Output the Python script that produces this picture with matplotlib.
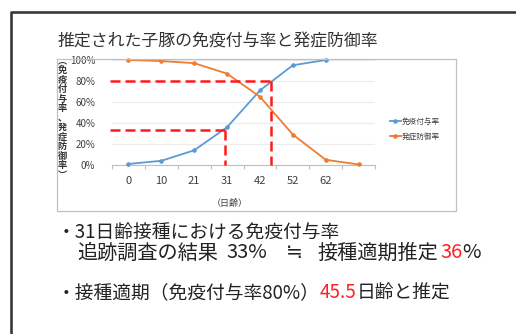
import matplotlib
matplotlib.use("Agg")

import matplotlib.pyplot as plt
from matplotlib.patches import Rectangle
from matplotlib.lines import Line2D

plt.rcParams["font.family"] = ["Noto Sans CJK JP", "DejaVu Sans"]

# ── データ ────────────────────────────────────────────────────────────────
day_labels = ["0", "10", "21", "31", "42", "52", "62", ""]
immunity   = [0.01, 0.04, 0.14, 0.36, 0.71, 0.95, 1.00]          # 免疫付与率
protection = [1.00, 0.99, 0.97, 0.87, 0.65, 0.29, 0.05, 0.005]   # 発症防御率

# 補助線（31日齢 33%、免疫付与率80% → 45.5日齢）
obs_rate, obs_pos = 0.33, 2.93
target_rate, target_pos = 0.80, 4.35

W, H = 516, 334
fig = plt.figure(figsize=(W / 100, H / 100), dpi=100)
fig.patch.set_facecolor("white")


def px_rect(l, t, r, b):
    return [l / W, 1 - b / H, (r - l) / W, (b - t) / H]


# スライド枠
fig.add_artist(Line2D([10.5 / W, 10.5 / W, 1.0], [0, 1 - 11.5 / H, 1 - 11.5 / H],
                      transform=fig.transFigure, color="#3a3a3a", lw=1.9))

# グラフ枠
fig.add_artist(Rectangle((57 / W, 1 - 211 / H), (456 - 57) / W, (211 - 59) / H,
                         transform=fig.transFigure, fill=False,
                         edgecolor="#c0c0c0", lw=0.9))

fig.text(58 / W, 1 - 42 / H, "推定された子豚の免疫付与率と発症防御率",
         fontsize=12.2, va="center", ha="left", color="#333333")

ax = fig.add_axes(px_rect(112, 60, 375, 165))
x_imm = list(range(len(immunity)))
x_pro = list(range(len(protection)))
ax.plot(x_imm, immunity, color="#5b9bd5", lw=1.3, marker="o", ms=2.3,
        clip_on=False, label="免疫付与率", zorder=3)
ax.plot(x_pro, protection, color="#ed7d31", lw=1.3, marker="o", ms=2.3,
        clip_on=False, label="発症防御率", zorder=3)

# 赤い破線
red = dict(color="#ff1a1a", lw=1.8, linestyle=(0, (4, 2)), clip_on=False, zorder=4)
ax.plot([-0.56, target_pos], [target_rate, target_rate], **red)
ax.plot([target_pos, target_pos], [target_rate, 0], **red)
ax.plot([-0.56, obs_pos], [obs_rate, obs_rate], **red)
ax.plot([obs_pos, obs_pos], [obs_rate, 0], **red)

ax.set_xlim(-0.5, len(day_labels) - 0.5)
ax.set_ylim(0, 1)
ax.set_xticks([i - 0.5 for i in range(len(day_labels) + 1)])
ax.set_xticklabels([])
ax.set_xticks(range(len(day_labels)), minor=True)
ax.set_xticklabels(day_labels, minor=True, fontsize=8, color="#404040")
ax.tick_params(axis="x", which="major", length=3, color="#bfbfbf", direction="out")
ax.tick_params(axis="x", which="minor", length=0, pad=8)
ax.set_yticks([0, 0.2, 0.4, 0.6, 0.8, 1.0])
ax.set_yticklabels(["0%", "20%", "40%", "60%", "80%", "100%"],
                   fontsize=7, color="#404040")
ax.tick_params(axis="y", length=0, pad=12)
ax.grid(axis="y", color="#ececec", lw=0.8)
ax.set_axisbelow(True)
for s in ["top", "right", "left"]:
    ax.spines[s].set_visible(False)
ax.spines["bottom"].set_color("#bfbfbf")
ax.spines["bottom"].set_zorder(1)

ax.legend(loc="center left", bbox_to_anchor=(383 / W, 1 - 129 / H),
          bbox_transform=fig.transFigure, frameon=False, fontsize=5.5,
          handlelength=1.4, handletextpad=0.2, labelspacing=0.9,
          labelcolor="#404040")

# 縦書きの軸ラベル
fig.text(62 / W, 1 - 118 / H, "\n".join("︵免疫付与率、発症防御率︶"),
         fontsize=6.6, linespacing=1.07, ha="center", va="center",
         color="#333333", fontweight="bold")
fig.text(230 / W, 1 - 203 / H, "（日齢）", fontsize=6.5, ha="center",
         va="center", color="#404040")

# 下の説明文
renderer = fig.canvas.get_renderer()


def draw_pieces(x, y, pieces, size=13.5):
    for s, c in pieces:
        t = fig.text(x / W, 1 - y / H, s, fontsize=size, color=c,
                     ha="left", va="center")
        x += t.get_window_extent(renderer).width


draw_pieces(57, 233, [("・31日齢接種における免疫付与率", "#222222")])
draw_pieces(77, 253, [("追跡調査の結果", "#222222")], size=14.5)
draw_pieces(226, 253, [("33%", "#222222")], size=14.5)
draw_pieces(286, 253, [("≒", "#222222")], size=14.5)
draw_pieces(317, 253, [("接種適期推定", "#222222")], size=14.5)
draw_pieces(440, 253, [("36", "#ff2020"), ("%", "#222222")], size=14.5)
draw_pieces(57, 293, [("・接種適期（免疫付与率80%）", "#222222"),
                      ("45.5", "#ff2020"), ("日齢と推定", "#222222")])

fig.savefig("out.png", dpi=100)
